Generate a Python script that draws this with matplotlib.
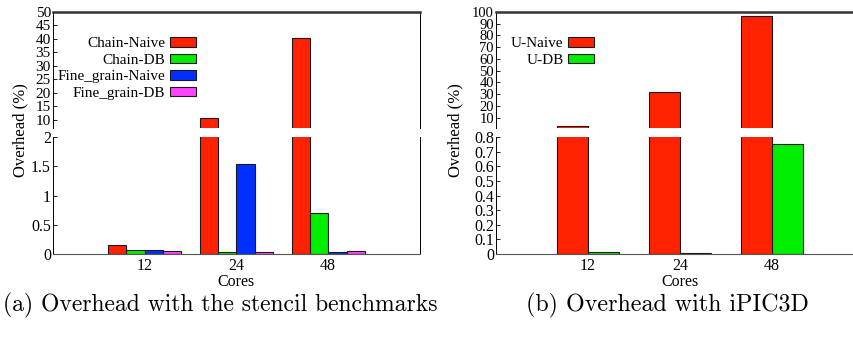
import matplotlib
matplotlib.use("Agg")
import matplotlib.pyplot as plt
import numpy as np

# data
cores = ["12", "24", "48"]

stencil_names = ["Chain-Naive", "Chain-DB", "Fine_grain-Naive", "Fine_grain-DB"]
chain_naive = [0.15, 10.85, 40.5]
chain_db = [0.07, 0.04, 0.70]
fine_naive = [0.06, 1.54, 0.04]
fine_db = [0.05, 0.04, 0.05]

ipic_names = ["U-Naive", "U-DB"]
u_naive = [3.0, 31.5, 97.0]
u_db = [0.015, 0.007, 0.75]

colors_a = ["#ff2200", "#00ee00", "#0030ff", "#ff44ff"]
colors_b = ["#ff2200", "#00ee00"]

plt.rcParams["font.family"] = ["Liberation Serif", "DejaVu Serif"]
plt.rcParams["font.size"] = 11

W, H = 854, 339
fig = plt.figure(figsize=(W / 100, H / 100), dpi=100)


def box(x0, x1, y0, y1):
    # pixel box -> figure fraction rect
    return [x0 / W, 1 - y1 / H, (x1 - x0) / W, (y1 - y0) / H]


def style(ax, top, right=True, ysize=11.5):
    ax.tick_params(axis="y", direction="in", length=3, width=0.6, pad=1.5,
                   labelsize=ysize)
    ax.tick_params(axis="x", length=0, labelsize=11.5, pad=3)
    ax.spines["left"].set_linewidth(0.7)
    ax.spines["right"].set_visible(right)
    ax.spines["right"].set_linewidth(0.7)
    if top:
        ax.spines["bottom"].set_visible(False)
        ax.spines["top"].set_linewidth(1.8)
        ax.spines["top"].set_color("#333333")
        ax.set_xticks([])
    else:
        ax.spines["top"].set_visible(False)
        ax.spines["bottom"].set_linewidth(0.8)
        ax.spines["bottom"].set_color("#555555")


def bars(ax, series, names, colors, width):
    x = np.arange(len(cores))
    n = len(series)
    handles = []
    for i, (vals, name, c) in enumerate(zip(series, names, colors)):
        off = (i - (n - 1) / 2) * width
        h = ax.bar(x + off, vals, width, color=c, edgecolor="#1a1a1a",
                   linewidth=0.8, label=name)
        handles.append(h)
    ax.set_xlim(-1, 3)
    return handles


legend_kw = dict(loc="upper right", bbox_transform=fig.transFigure,
                 frameon=False, markerfirst=False, handlelength=1.7,
                 handleheight=0.6, handletextpad=0.3, labelspacing=0.22,
                 borderpad=0, borderaxespad=0, fontsize=11)

# ---- (a) stencil benchmarks ----
series_a = [chain_naive, chain_db, fine_naive, fine_db]
a_up = fig.add_axes(box(53, 420, 12, 128))
a_lo = fig.add_axes(box(53, 420, 137, 254))
hs = bars(a_up, series_a, stencil_names, colors_a, 0.2)
bars(a_lo, series_a, stencil_names, colors_a, 0.2)
a_up.set_ylim(7, 50)
a_up.set_yticks(np.arange(10, 51, 5))
a_lo.set_ylim(0, 2)
a_lo.set_yticks([0, 0.5, 1, 1.5, 2])
a_lo.set_yticklabels(["0", "0.5", "1", "1.5", "2"])
a_lo.set_xticks(range(len(cores)))
a_lo.set_xticklabels(cores)
style(a_up, True, ysize=11)
style(a_lo, False)
a_lo.set_xlabel("Cores", labelpad=0, fontsize=11.5)
fig.text(20 / W, 1 - 130 / H, "Overhead (%)", rotation=90, ha="center",
         va="center", fontsize=12)
a_up.legend(handles=hs, bbox_to_anchor=(196 / W, 1 - 37 / H), **legend_kw)

# ---- (b) iPIC3D ----
series_b = [u_naive, u_db]
b_up = fig.add_axes(box(496, 864, 12, 128))
b_lo = fig.add_axes(box(496, 864, 137, 254))
hs = bars(b_up, series_b, ipic_names, colors_b, 1 / 3)
bars(b_lo, series_b, ipic_names, colors_b, 1 / 3)
b_up.set_ylim(1.25, 100)
b_up.set_yticks(np.arange(10, 101, 10))
b_lo.set_ylim(0, 0.8)
b_lo.set_yticks(np.arange(0, 0.81, 0.1))
b_lo.set_yticklabels(["0"] + ["%.1f" % v for v in np.arange(0.1, 0.81, 0.1)])
b_lo.set_xticks(range(len(cores)))
b_lo.set_xticklabels(cores)
style(b_up, True, right=False, ysize=10.5)
style(b_lo, False, right=False)
b_lo.set_xlabel("Cores", labelpad=0, fontsize=11.5)
fig.text(455 / W, 1 - 130 / H, "Overhead (%)", rotation=90, ha="center",
         va="center", fontsize=12)
b_up.legend(handles=hs, bbox_to_anchor=(594 / W, 1 - 37 / H), **legend_kw)

# captions
fig.text(220 / W, 1 - 305 / H, "(a) Overhead with the stencil benchmarks",
         ha="center", va="center", fontsize=17, family="cmr10")
fig.text(667 / W, 1 - 305 / H, "(b) Overhead with iPIC3D",
         ha="center", va="center", fontsize=17.3, family="cmr10")

fig.savefig("out.png", dpi=100)
